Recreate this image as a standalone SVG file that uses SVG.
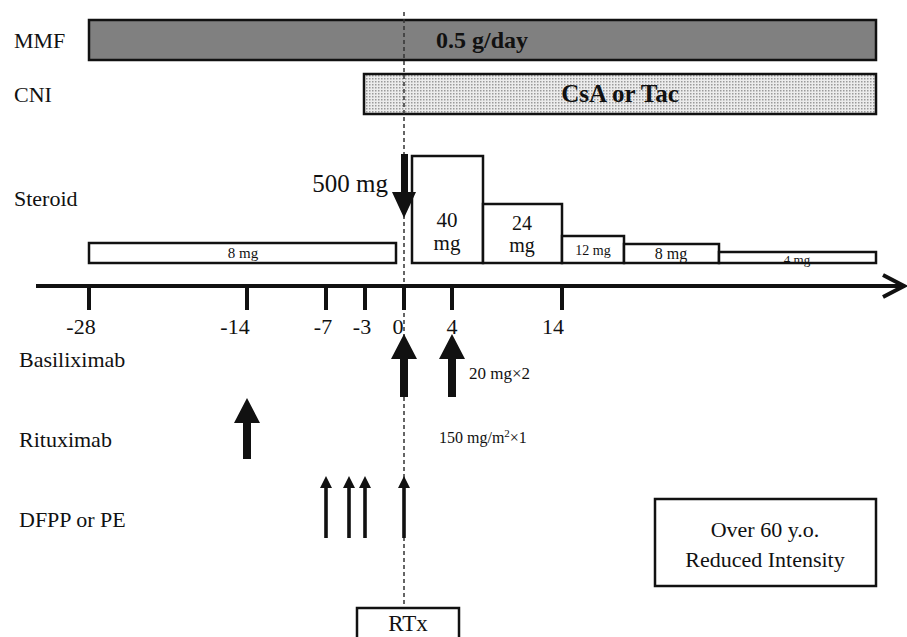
<svg xmlns="http://www.w3.org/2000/svg" width="907" height="637" viewBox="0 0 907 637">
<style>
.lbl{font-family:"Liberation Serif","Times New Roman",serif;font-size:22px;fill:#111}
.t{font-family:"Liberation Serif","Times New Roman",serif;fill:#111}
.box{fill:#fff;stroke:#111;stroke-width:2.5}
.ax{stroke:#111;stroke-width:4;fill:none}
.big{fill:#111}
</style>
<defs>
<pattern id="dots" width="3" height="3" patternUnits="userSpaceOnUse">
<rect width="3" height="3" fill="#ececec"/>
<rect width="1.5" height="1.5" fill="#9a9a9a"/>
</pattern>
</defs>
<rect width="907" height="637" fill="#fff"/>

<g id="labels">
<text class="lbl" x="14" y="48">MMF</text>
<text class="lbl" x="14" y="102">CNI</text>
<text class="lbl" x="14" y="206">Steroid</text>
<text class="lbl" x="19" y="367">Basiliximab</text>
<text class="lbl" x="19" y="447">Rituximab</text>
<text class="lbl" x="19" y="527">DFPP or PE</text>
</g>

<g id="mmf">
<rect x="89" y="20" width="787" height="40" fill="#808080" stroke="#111" stroke-width="2.5"/>
<text class="t" x="482" y="48" font-size="24" font-weight="bold" text-anchor="middle">0.5 g/day</text>
</g>
<g id="cni">
<rect x="364" y="74" width="512" height="40" fill="url(#dots)" stroke="#111" stroke-width="2.5"/>
<text class="t" x="620" y="102" font-size="25" font-weight="bold" text-anchor="middle">CsA or Tac</text>
</g>

<g id="steroid">
<rect class="box" x="89" y="243" width="307" height="20"/>
<text class="t" x="243" y="258" font-size="15" text-anchor="middle">8 mg</text>
<rect class="box" x="412" y="156" width="71" height="107"/>
<text class="t" x="447" y="227" font-size="21" text-anchor="middle">40</text>
<text class="t" x="447" y="250" font-size="21" text-anchor="middle">mg</text>
<rect class="box" x="483" y="204" width="79" height="59"/>
<text class="t" x="522" y="230" font-size="20" text-anchor="middle">24</text>
<text class="t" x="522" y="252" font-size="20" text-anchor="middle">mg</text>
<rect class="box" x="562" y="236" width="62" height="27"/>
<text class="t" x="593" y="255" font-size="14" text-anchor="middle">12 mg</text>
<rect class="box" x="624" y="244" width="95" height="19"/>
<text class="t" x="671" y="259" font-size="16" text-anchor="middle">8 mg</text>
<rect class="box" x="719" y="252" width="157" height="11"/>
<text class="t" x="797" y="264" font-size="13" text-anchor="middle">4 mg</text>
<text class="t" x="388" y="192" font-size="25" text-anchor="end">500 mg</text>
</g>

<g id="connectors">
<line x1="404" y1="12" x2="404" y2="606" stroke="#333" stroke-width="1.5" stroke-dasharray="4 3"/>
<line class="ax" x1="36" y1="286" x2="903" y2="286"/>
<polyline class="ax" points="883,275 904,286 883,297"/>
<g stroke="#111" stroke-width="4">
<line x1="89" y1="286" x2="89" y2="310"/>
<line x1="247" y1="286" x2="247" y2="310"/>
<line x1="326" y1="286" x2="326" y2="310"/>
<line x1="365" y1="286" x2="365" y2="310"/>
<line x1="404" y1="286" x2="404" y2="310"/>
<line x1="452" y1="286" x2="452" y2="310"/>
<line x1="562" y1="286" x2="562" y2="310"/>
</g>
<polygon class="big" points="401,154 408,154 408,192 416,192 404,218 392,192 401,192"/>
<polygon class="big" points="404,334 417,359 408,359 408,397 400,397 400,359 391,359"/>
<polygon class="big" points="452,334 465,359 456,359 456,397 448,397 448,359 439,359"/>
<polygon class="big" points="247,398 260,423 251,423 251,459 243,459 243,423 234,423"/>
<polygon class="big" points="326,476 332,488 327.8,488 327.8,538 324.2,538 324.2,488 320,488"/>
<polygon class="big" points="349,476 355,488 350.8,488 350.8,538 347.2,538 347.2,488 343,488"/>
<polygon class="big" points="365,476 371,488 366.8,488 366.8,538 363.2,538 363.2,488 359,488"/>
<polygon class="big" points="404,476 410,488 405.8,488 405.8,538 402.2,538 402.2,488 398,488"/>
</g>

<g id="ticklabels" class="t" font-size="22" text-anchor="middle">
<text x="81" y="334">-28</text>
<text x="235" y="334">-14</text>
<text x="323" y="334">-7</text>
<text x="362" y="334">-3</text>
<text x="398" y="334">0</text>
<text x="452" y="334">4</text>
<text x="553" y="334">14</text>
</g>

<g id="doses">
<text class="t" x="469" y="379" font-size="17">20 mg×2</text>
<text class="t" x="439" y="443" font-size="16">150 mg/m<tspan font-size="11" dy="-6">2</tspan><tspan dy="6">×1</tspan></text>
</g>

<g id="note">
<rect x="655" y="499" width="221" height="87" fill="#fff" stroke="#111" stroke-width="2.5"/>
<text class="t" x="765" y="537" font-size="22" text-anchor="middle">Over 60 y.o.</text>
<text class="t" x="765" y="567" font-size="22" text-anchor="middle">Reduced Intensity</text>
</g>

<g id="rtx">
<rect x="357" y="608" width="102" height="40" fill="#fff" stroke="#111" stroke-width="2.5"/>
<text class="t" x="408" y="631" font-size="23" text-anchor="middle">RTx</text>
</g>
</svg>
